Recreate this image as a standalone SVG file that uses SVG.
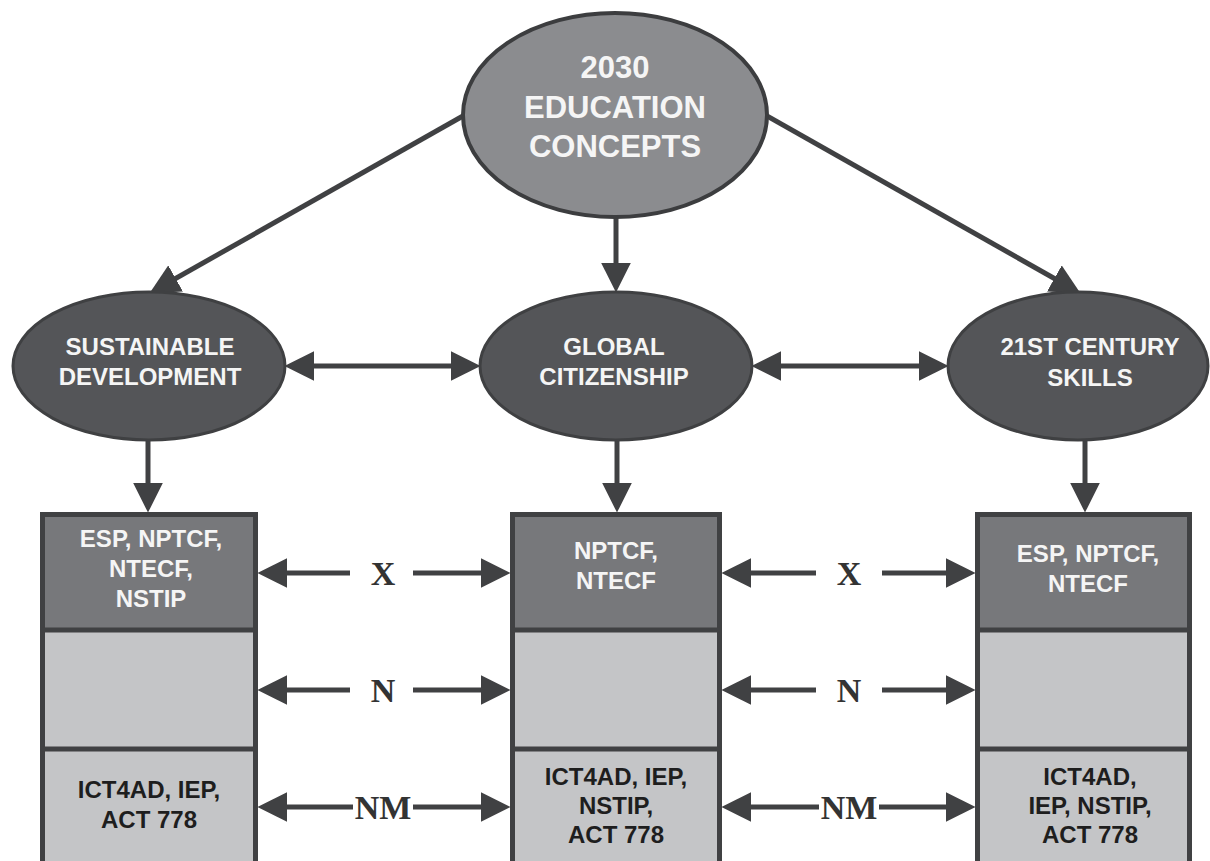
<svg xmlns="http://www.w3.org/2000/svg" width="1210" height="861" viewBox="0 0 1210 861">
<defs>
<marker id="ah" markerUnits="userSpaceOnUse" markerWidth="30" markerHeight="30" refX="20" refY="14" orient="auto-start-reverse" viewBox="0 0 28 28">
<path d="M0,0 L28,14 L0,28 z" fill="#404143"/>
</marker>
<style>
.conn{stroke:#404143;stroke-width:5;fill:none}
.a{marker-end:url(#ah)}
.d{marker-start:url(#ah);marker-end:url(#ah)}
.top{fill:#8b8c8f;stroke:#3c3d3f;stroke-width:4}
.dark{fill:#545558;stroke:#3f4042;stroke-width:3}
.wt{font-family:"Liberation Sans",Arial,sans-serif;font-weight:bold;fill:#f5f5f5;text-anchor:middle}
.bt{font-family:"Liberation Sans",Arial,sans-serif;font-weight:bold;fill:#1e1e1e;text-anchor:middle;font-size:24px}
.lbl{font-family:"Liberation Serif","Times New Roman",serif;font-weight:bold;fill:#333;text-anchor:middle;font-size:34px}
.boxo{fill:#c4c5c7;stroke:#404143;stroke-width:5}
.boxt{fill:#77787b}
.sep{stroke:#404143;stroke-width:5}
</style>
</defs>
<rect width="1210" height="861" fill="#ffffff"/>
<g id="connectors">
<line class="conn a" x1="470" y1="112" x2="157" y2="289"/>
<line class="conn a" x1="760" y1="112" x2="1073" y2="289"/>
<line class="conn a" x1="616" y1="215" x2="616" y2="284"/>
<line class="conn d" x1="293" y1="366" x2="472" y2="366"/>
<line class="conn d" x1="760" y1="366" x2="940" y2="366"/>
<line class="conn a" x1="148" y1="440" x2="148" y2="504"/>
<line class="conn a" x1="617" y1="440" x2="617" y2="504"/>
<line class="conn a" x1="1085" y1="440" x2="1085" y2="504"/>
<line class="conn a" x1="350" y1="573" x2="266" y2="573"/>
<line class="conn a" x1="413" y1="573" x2="502" y2="573"/>
<line class="conn a" x1="350" y1="690" x2="266" y2="690"/>
<line class="conn a" x1="413" y1="690" x2="502" y2="690"/>
<line class="conn a" x1="353" y1="807" x2="266" y2="807"/>
<line class="conn a" x1="413" y1="807" x2="502" y2="807"/>
<line class="conn a" x1="816" y1="573" x2="730" y2="573"/>
<line class="conn a" x1="882" y1="573" x2="967" y2="573"/>
<line class="conn a" x1="816" y1="690" x2="730" y2="690"/>
<line class="conn a" x1="882" y1="690" x2="967" y2="690"/>
<line class="conn a" x1="819" y1="807" x2="730" y2="807"/>
<line class="conn a" x1="879" y1="807" x2="967" y2="807"/>
<text class="lbl" x="383" y="585">X</text>
<text class="lbl" x="383" y="702">N</text>
<text class="lbl" x="383" y="819">NM</text>
<text class="lbl" x="849" y="585">X</text>
<text class="lbl" x="849" y="702">N</text>
<text class="lbl" x="849" y="819">NM</text>
</g>
<g id="node-2030">
<ellipse class="top" cx="615" cy="115" rx="152" ry="102"/>
<text class="wt" font-size="31" x="615" y="78">2030</text>
<text class="wt" font-size="31" x="615" y="118">EDUCATION</text>
<text class="wt" font-size="31" x="615" y="157">CONCEPTS</text>
</g>
<g id="node-sd">
<ellipse class="dark" cx="149" cy="366" rx="136" ry="74"/>
<text class="wt" font-size="24" x="150" y="355">SUSTAINABLE</text>
<text class="wt" font-size="24" x="150" y="385">DEVELOPMENT</text>
</g>
<g id="node-gc">
<ellipse class="dark" cx="616" cy="366" rx="136" ry="74"/>
<text class="wt" font-size="24" x="614" y="355">GLOBAL</text>
<text class="wt" font-size="24" x="614" y="385">CITIZENSHIP</text>
</g>
<g id="node-21c">
<ellipse class="dark" cx="1078" cy="366" rx="130" ry="74"/>
<text class="wt" font-size="24" x="1090" y="355">21ST CENTURY</text>
<text class="wt" font-size="24" x="1090" y="386">SKILLS</text>
</g>
<g id="box-sd">
<rect class="boxo" x="42.5" y="514.5" width="213" height="360"/>
<rect class="boxt" x="45" y="517" width="208" height="113"/>
<line class="sep" x1="42" y1="630" x2="256" y2="630"/>
<line class="sep" x1="42" y1="749" x2="256" y2="749"/>
<text class="wt" font-size="24" x="151" y="547">ESP, NPTCF,</text>
<text class="wt" font-size="24" x="151" y="577">NTECF,</text>
<text class="wt" font-size="24" x="151" y="607">NSTIP</text>
<text class="bt" x="149" y="798">ICT4AD, IEP,</text>
<text class="bt" x="149" y="828">ACT 778</text>
</g>
<g id="box-gc">
<rect class="boxo" x="512.5" y="514.5" width="207" height="360"/>
<rect class="boxt" x="515" y="517" width="202" height="113"/>
<line class="sep" x1="512" y1="630" x2="720" y2="630"/>
<line class="sep" x1="512" y1="749" x2="720" y2="749"/>
<text class="wt" font-size="24" x="616" y="559">NPTCF,</text>
<text class="wt" font-size="24" x="616" y="589">NTECF</text>
<text class="bt" x="616" y="785">ICT4AD, IEP,</text>
<text class="bt" x="616" y="814">NSTIP,</text>
<text class="bt" x="616" y="843">ACT 778</text>
</g>
<g id="box-21c">
<rect class="boxo" x="977.5" y="514.5" width="212" height="360"/>
<rect class="boxt" x="980" y="517" width="207" height="113"/>
<line class="sep" x1="977" y1="630" x2="1190" y2="630"/>
<line class="sep" x1="977" y1="749" x2="1190" y2="749"/>
<text class="wt" font-size="24" x="1088" y="562">ESP, NPTCF,</text>
<text class="wt" font-size="24" x="1088" y="592">NTECF</text>
<text class="bt" x="1090" y="785">ICT4AD,</text>
<text class="bt" x="1090" y="814">IEP, NSTIP,</text>
<text class="bt" x="1090" y="843">ACT 778</text>
</g>
</svg>
